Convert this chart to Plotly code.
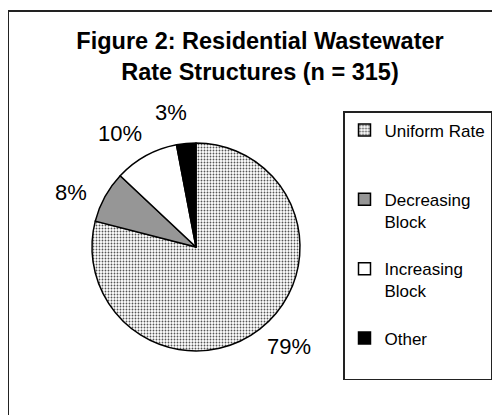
import math
import plotly.graph_objects as go

legend_labels = ["Uniform Rate<br> <br> ", "Decreasing<br>Block<br> ", "Increasing<br>Block<br> ", "Other<br> "]
values = [79, 8, 10, 3]
label_text = ["79%", "8%", "10%", "3%"]
colors = ["white", "#969696", "white", "black"]

FONT = "Arial, Liberation Sans, sans-serif"
W, H = 500, 415
OFF = 8  # page body margin: screen = figure + 8 px


def fx(px):
    return (px - OFF) / W


def fy(py):
    return 1 - (py - OFF) / H


# pie placement (screen pixels)
CX, CY, R = 196, 247, 104

fig = go.Figure(go.Pie(
    labels=legend_labels,
    values=values,
    textinfo="none",
    sort=False,
    direction="clockwise",
    rotation=0,
    hoverinfo="label+percent",
    marker=dict(
        colors=colors,
        line=dict(color="black", width=1.5),
        pattern=dict(
            shape=[".", "", "", ""],
            fgcolor="#555555",
            bgcolor="white",
            size=3,
            solidity=0.3,
        ),
    ),
    domain=dict(x=[fx(CX - R), fx(CX + R)], y=[fy(CY + R), fy(CY - R)]),
))

# percentage labels placed outside each slice near its mid-angle
total = sum(values)
cum = 0
annotations = []
for v, t in zip(values, label_text):
    mid = (cum + v / 2) / total * 2 * math.pi - math.radians(5)
    cum += v
    dist = R * 1.31
    px = CX + dist * math.sin(mid)
    py = CY - dist * math.cos(mid)
    annotations.append(dict(
        text=t, x=fx(px), y=fy(py), xref="paper", yref="paper",
        xanchor="center", yanchor="middle", showarrow=False,
        font=dict(family=FONT, size=22, color="black"),
    ))

fig.update_layout(
    width=W,
    height=H,
    margin=dict(l=0, r=0, t=0, b=0),
    paper_bgcolor="white",
    plot_bgcolor="white",
    font=dict(family=FONT, color="black"),
    title=dict(
        text="<b>Figure 2: Residential Wastewater<br>Rate Structures (n = 315)</b>",
        x=fx(260),
        xanchor="center",
        y=1 - 41 / H,
        yanchor="middle",
        font=dict(family=FONT, size=23.5, color="black"),
    ),
    legend=dict(
        x=fx(343),
        xanchor="left",
        y=fy(111),
        yanchor="top",
        valign="top",
        bordercolor="#222222",
        borderwidth=1.5,
        bgcolor="white",
        font=dict(family=FONT, size=17, color="black"),
    ),
    annotations=annotations,
    shapes=[
        dict(
            type="rect",
            xref="paper", yref="paper",
            x0=fx(8), x1=1.2,
            y0=-0.2, y1=fy(11),
            line=dict(color="#222222", width=2),
            fillcolor="rgba(0,0,0,0)",
            layer="below",
        )
    ],
)

fig.write_html("out.html")
